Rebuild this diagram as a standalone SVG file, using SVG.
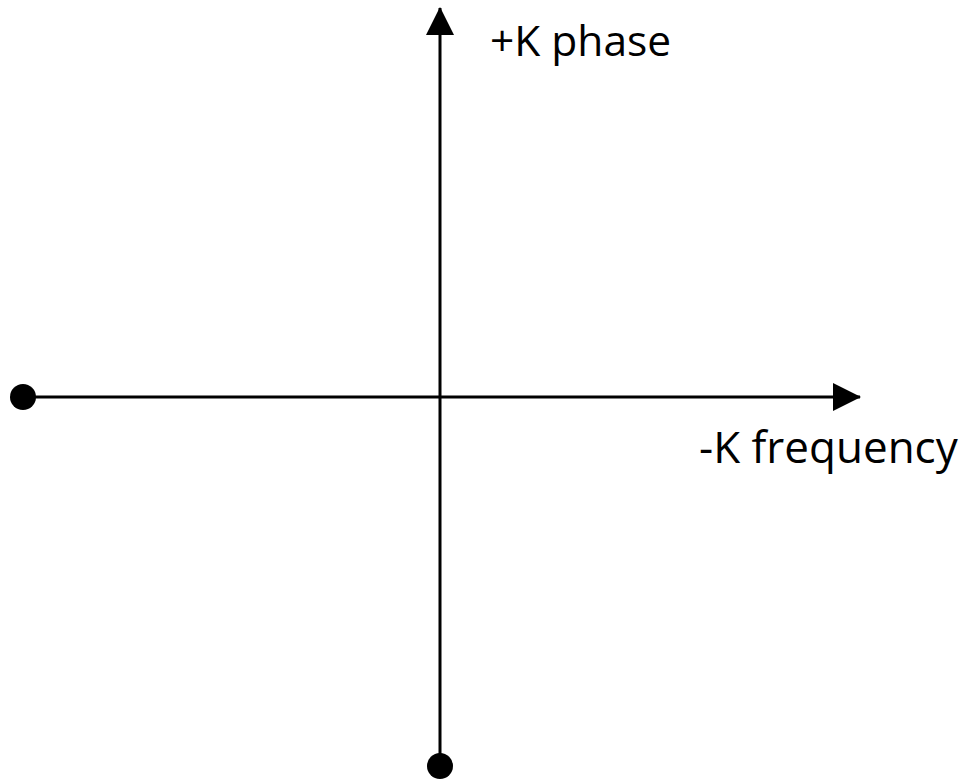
<svg xmlns="http://www.w3.org/2000/svg" width="962" height="780" viewBox="0 0 962 780">
<style>
.ax{stroke:#000;stroke-width:3;fill:none}
.lbl{font-family:"Open Sans","Liberation Sans",sans-serif;font-size:42px;fill:#000}
</style>
<defs>
<marker id="ah" markerUnits="userSpaceOnUse" markerWidth="28" markerHeight="28" refX="27" refY="14" orient="auto" viewBox="0 0 28 28">
<path d="M0,0 L28,14 L0,28 Z" fill="#000"/>
</marker>
</defs>
<rect width="962" height="780" fill="#fff"/>
<g id="connectors">
<line class="ax" x1="23" y1="397" x2="860" y2="397" marker-end="url(#ah)"/>
<line class="ax" x1="440" y1="766" x2="440" y2="8" marker-end="url(#ah)"/>
</g>
<g id="dot-left"><circle cx="23" cy="397" r="13" fill="#000"/></g>
<g id="dot-bottom"><circle cx="440" cy="766" r="13" fill="#000"/></g>
<g id="label-phase"><text class="lbl" x="490" y="56" style="font-size:42.5px">+K phase</text></g>
<g id="label-frequency"><text class="lbl" x="699" y="463" style="font-size:44px">-K frequency</text></g>
</svg>
